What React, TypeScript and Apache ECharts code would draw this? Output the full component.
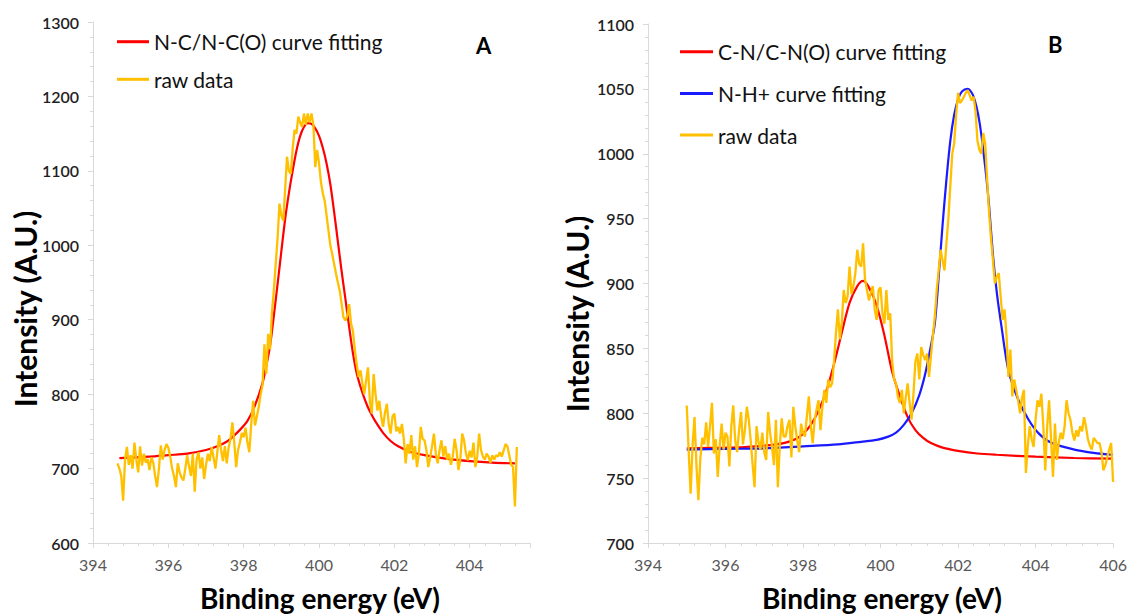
import React, { useEffect, useRef } from "react";
import * as echarts from "echarts";

// ---------- Panel A data ----------
const rawAStart = 394.65;
const rawBStart = 395.0;
const rawStep = 0.05;

const rawA = [
  707, 700, 690, 657, 712, 729, 705, 718, 700, 735, 712, 695, 730, 704, 720, 708, 713, 698, 715, 708,
  690, 675, 700, 731, 712, 725, 733, 728, 716, 700, 690, 675, 707, 695, 688, 684, 700, 718, 703, 690,
  720, 669, 712, 722, 700, 715, 686, 705, 720, 710, 729, 715, 700, 722, 745, 725, 710, 730, 707, 728,
  740, 762, 735, 702, 725, 735, 748, 742, 755, 735, 722, 760, 791, 758, 770, 783, 800, 812, 867, 827,
  881, 860, 910, 939, 975, 1010, 1056, 1040, 1033, 1075, 1119, 1100, 1096, 1130, 1155, 1150, 1173, 1165, 1159, 1177,
  1162, 1177, 1165, 1177, 1162, 1105, 1128, 1110, 1085, 1070, 1060, 1040, 1020, 1000, 988, 975, 962, 950, 939, 921,
  903, 899, 905, 921, 895, 885, 860, 840, 823, 832, 815, 800, 818, 836, 790, 774, 827, 800, 778, 791,
  770, 756, 775, 787, 760, 747, 770, 774, 750, 756, 747, 760, 740, 707, 733, 720, 745, 712, 730, 702,
  720, 756, 740, 738, 725, 702, 715, 730, 747, 720, 707, 725, 738, 716, 730, 712, 720, 705, 716, 740,
  725, 698, 712, 747, 738, 720, 711, 724, 715, 735, 702, 716, 747, 725, 716, 712, 720, 716, 708, 718,
  712, 718, 716, 722, 716, 724, 733, 730, 718, 705, 702, 649, 729,
];

const fitAEnergy = [
  394.7, 395.5, 396.0, 396.5, 397.0, 397.3, 397.6, 397.9, 398.1, 398.3, 398.5, 398.6, 398.7, 398.8, 398.9,
  399.0, 399.1, 399.2, 399.3, 399.4, 399.5, 399.6, 399.7, 399.8, 399.9, 400.0, 400.1, 400.2, 400.3, 400.4,
  400.5, 400.6, 400.7, 400.8, 400.9, 401.0, 401.1, 401.2, 401.3, 401.4, 401.5, 401.7, 401.9, 402.1, 402.4,
  402.8, 403.4, 404.0, 404.6, 405.2,
];
const fitAIntensity = [
  714, 716, 718, 720, 725, 730, 738, 752, 764, 785, 815, 838, 865, 905, 948,
  992, 1035, 1070, 1100, 1127, 1147, 1159, 1164, 1163, 1157, 1147, 1131, 1110, 1082, 1045,
  1005, 965, 928, 890, 855, 828, 810, 795, 782, 772, 763, 748, 737, 730, 723,
  718, 713, 710, 708, 707,
];

// ---------- Panel B data ----------
const rawB = [
  806, 770, 738, 775, 797, 760, 733, 765, 781, 776,
  793, 774, 790, 808, 769, 780, 751, 775, 792, 772,
  785, 782, 759, 790, 806, 779, 770, 787, 801, 776,
  787, 805, 795, 779, 760, 743, 790, 778, 772, 785,
  770, 764, 801, 785, 774, 760, 795, 743, 775, 796,
  782,
  782, 790, 795, 766, 805, 790, 779, 770, 792, 785,
  782, 798, 813, 790, 777, 795, 803, 810, 787, 805,
  818, 808, 826, 820, 823, 840, 862, 880, 857, 870,
  895, 885, 890, 913, 892, 898, 908, 926, 915, 913,
  931, 903, 895, 887, 893, 898, 880, 872, 895, 897,
  877, 869, 895, 872, 877, 840, 826, 823, 812, 808,
  818, 800, 812, 823, 808, 795, 815, 840, 846, 826,
  851, 845, 841, 846, 828, 844, 860, 874, 895, 910,
  926, 918, 910, 931, 950, 975, 1000, 1008, 1030, 1047,
  1039, 1041, 1044, 1047, 1049, 1045, 1041, 1044, 1033, 1010,
  1003, 1000, 1016, 1008, 980, 955, 935, 918, 900, 905,
  908, 890, 872, 880, 860, 828, 849, 813, 826, 818,
  810, 800, 812, 818, 754, 775, 790, 780, 774, 795,
  810, 805, 815, 790, 756, 790, 810, 780, 751, 792,
  764, 778, 785, 780, 790, 810, 800, 795, 785, 779,
  787, 782, 790, 786, 797, 790, 780, 775, 772, 781,
  779, 777, 777, 770, 756, 760, 766, 772, 777, 747,
];

const fitBRedEnergy = [
  395.0, 396.0, 396.5, 397.0, 397.5, 397.8, 398.0, 398.2, 398.4, 398.6, 398.8, 399.0, 399.2, 399.4,
  399.55, 399.7, 399.9, 400.1, 400.3, 400.5, 400.7, 400.9, 401.1, 401.3, 401.6, 402.0, 402.5, 403.0,
  404.0, 405.0, 406.0,
];
const fitBRedIntensity = [
  773, 773.5, 774, 775, 777, 780, 784, 791, 802, 817, 838, 862, 885, 898,
  902, 897, 883, 860, 832, 813, 797, 787, 781, 777, 773.5, 771, 769, 768,
  766.5, 765.5, 765,
];

const fitBBlueEnergy = [
  395.0, 396.0, 397.0, 398.0, 398.9, 399.5, 399.9, 400.2, 400.4, 400.6, 400.8, 401.0, 401.15, 401.3,
  401.4, 401.5, 401.6, 401.7, 401.8, 401.9, 402.0, 402.1, 402.25, 402.4, 402.55, 402.7, 402.8, 402.9,
  403.0, 403.12, 403.3, 403.56, 403.82, 404.08, 404.42, 405.0, 405.5, 406.0,
];
const fitBBlueIntensity = [
  772, 772.5, 773, 774.5, 776, 778, 779.5, 782, 785, 791, 800, 814, 830, 852,
  869, 905, 945, 980, 1010, 1030, 1042, 1048, 1050, 1044, 1025, 990, 960, 922,
  893, 867, 833, 810, 795, 784.5, 777, 772, 769.5, 768,
];

const xMajorTicks = [394, 396, 398, 400, 402, 404, 406];

const FONT = "Lato, 'Open Sans', sans-serif";
const AXIS_GRAY = "#d9d9d9";
const RED = "#ff0000";
const BLUE = "#1a1aff";
const ORANGE = "#ffc000";

const pairs = (xs: number[], ys: number[]) => xs.map((x, i) => [x, ys[i]]);
const rawPairs = (start: number, vals: number[]) =>
  vals.map((v, i) => [Number((start + i * rawStep).toFixed(2)), v]);

const isMajor = (v: number) => xMajorTicks.some((t) => Math.abs(t - v) < 1e-6);

export default function App() {
  const ref = useRef<HTMLDivElement>(null);

  useEffect(() => {
    if (!ref.current) return;
    const chart = echarts.init(ref.current, null, { renderer: "svg" });

    const axisLine = { show: true, lineStyle: { color: AXIS_GRAY, width: 1 } };
    const yLabel = {
      color: "#1f1f1f",
      fontSize: 16,
      fontWeight: 600,
      fontFamily: FONT,
      margin: 14,
      formatter: (v: number) => String(v),
    };
    const xLabel = { color: "#595959", fontSize: 16, fontFamily: FONT, margin: 13 };
    const legendText = { fontSize: 21, color: "#111", fontFamily: FONT, lineHeight: 22 };
    const titleStyle = (text: string, size: number) => ({
      text,
      fontSize: size,
      fontWeight: "bold",
      fill: "#000",
      fontFamily: FONT,
      textAlign: "center",
      textVerticalAlign: "middle",
    });

    const option: any = {
      animation: false,
      backgroundColor: "#ffffff",
      grid: [
        { left: 93, top: 22, width: 437, height: 521 },
        { left: 648, top: 24, width: 470, height: 519 },
      ],
      xAxis: [
        {
          type: "value",
          gridIndex: 0,
          position: "bottom",
          min: 394,
          max: 405.6,
          interval: 0.4,
          axisLine,
          axisTick: { show: true, length: 3, lineStyle: { color: AXIS_GRAY } },
          axisLabel: {
            ...xLabel,
            formatter: (v: number) => (isMajor(v) ? String(Math.round(v)) : ""),
          },
          splitLine: { show: false },
        },
        {
          type: "value",
          gridIndex: 0,
          position: "bottom",
          min: 394,
          max: 405.6,
          interval: 2,
          axisLine: { show: false },
          axisTick: { show: true, length: 5, lineStyle: { color: AXIS_GRAY } },
          axisLabel: { show: false },
          splitLine: { show: false },
        },
        {
          type: "value",
          gridIndex: 1,
          position: "bottom",
          min: 394,
          max: 406,
          interval: 2,
          axisLine,
          axisTick: { show: true, length: 5, lineStyle: { color: AXIS_GRAY } },
          minorTick: { show: true, splitNumber: 5, length: 3, lineStyle: { color: AXIS_GRAY } },
          axisLabel: xLabel,
          splitLine: { show: false },
          minorSplitLine: { show: false },
        },
      ],
      yAxis: [
        {
          type: "value",
          gridIndex: 0,
          min: 600,
          max: 1300,
          interval: 100,
          axisLine,
          axisTick: { show: true, length: 5, lineStyle: { color: AXIS_GRAY } },
          minorTick: { show: true, splitNumber: 5, length: 3, lineStyle: { color: AXIS_GRAY } },
          axisLabel: yLabel,
          splitLine: { show: false },
          minorSplitLine: { show: false },
        },
        {
          type: "value",
          gridIndex: 1,
          min: 700,
          max: 1100,
          interval: 50,
          axisLine,
          axisTick: { show: true, length: 5, lineStyle: { color: AXIS_GRAY } },
          minorTick: { show: true, splitNumber: 5, length: 3, lineStyle: { color: AXIS_GRAY } },
          axisLabel: yLabel,
          splitLine: { show: false },
          minorSplitLine: { show: false },
        },
      ],
      legend: [
        {
          data: ["N-C/N-C(O) curve fitting", "raw data"],
          orient: "vertical",
          left: 117,
          top: 30.7,
          padding: 0,
          icon: "rect",
          itemWidth: 32,
          itemHeight: 3,
          itemGap: 15.6,
          selectedMode: false,
          textStyle: legendText,
        },
        {
          data: ["C-N/C-N(O) curve fitting", "N-H+ curve fitting", "raw data"],
          orient: "vertical",
          left: 680,
          top: 40.7,
          padding: 0,
          icon: "rect",
          itemWidth: 33,
          itemHeight: 3,
          itemGap: 19.7,
          selectedMode: false,
          textStyle: legendText,
        },
      ],
      graphic: [
        {
          type: "text",
          left: 476,
          top: 34,
          style: { text: "A", fontSize: 22, fontWeight: "bold", fill: "#000", fontFamily: FONT },
        },
        {
          type: "text",
          left: 1048,
          top: 33,
          style: { text: "B", fontSize: 22, fontWeight: "bold", fill: "#000", fontFamily: FONT },
        },
        { type: "text", x: 25, y: 309, rotation: Math.PI / 2, style: titleStyle("Intensity (A.U.)", 30) },
        { type: "text", x: 577, y: 314, rotation: Math.PI / 2, style: titleStyle("Intensity (A.U.)", 30) },
        { type: "text", x: 320, y: 598, style: titleStyle("Binding energy (eV)", 28) },
        { type: "text", x: 882, y: 598, style: titleStyle("Binding energy (eV)", 28) },
      ],
      series: [
        {
          name: "N-C/N-C(O) curve fitting",
          type: "line",
          xAxisIndex: 0,
          yAxisIndex: 0,
          data: pairs(fitAEnergy, fitAIntensity),
          showSymbol: false,
          symbol: "none",
          smooth: 0.3,
          lineStyle: { color: RED, width: 2.2 },
          itemStyle: { color: RED },
        },
        {
          name: "raw data",
          type: "line",
          xAxisIndex: 0,
          yAxisIndex: 0,
          data: rawPairs(rawAStart, rawA),
          showSymbol: false,
          symbol: "none",
          lineStyle: { color: ORANGE, width: 2.3 },
          itemStyle: { color: ORANGE },
        },
        {
          name: "C-N/C-N(O) curve fitting",
          type: "line",
          xAxisIndex: 2,
          yAxisIndex: 1,
          data: pairs(fitBRedEnergy, fitBRedIntensity),
          showSymbol: false,
          symbol: "none",
          smooth: 0.3,
          lineStyle: { color: RED, width: 2.2 },
          itemStyle: { color: RED },
        },
        {
          name: "N-H+ curve fitting",
          type: "line",
          xAxisIndex: 2,
          yAxisIndex: 1,
          data: pairs(fitBBlueEnergy, fitBBlueIntensity),
          showSymbol: false,
          symbol: "none",
          smooth: 0.3,
          lineStyle: { color: BLUE, width: 2.2 },
          itemStyle: { color: BLUE },
        },
        {
          name: "raw data",
          type: "line",
          xAxisIndex: 2,
          yAxisIndex: 1,
          data: rawPairs(rawBStart, rawB),
          showSymbol: false,
          symbol: "none",
          lineStyle: { color: ORANGE, width: 2.3 },
          itemStyle: { color: ORANGE },
        },
      ],
    };

    chart.setOption(option);
    return () => chart.dispose();
  }, []);

  return (
    <div
      ref={ref}
      style={{ position: "fixed", left: 0, top: 0, width: 1130, height: 616, background: "#fff" }}
    />
  );
}
